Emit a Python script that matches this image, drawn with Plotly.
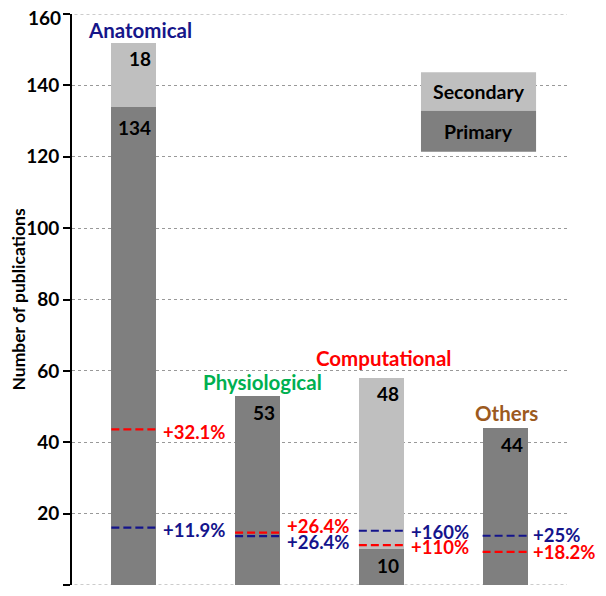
import plotly.graph_objects as go

categories = ["Anatomical", "Physiological", "Computational", "Others"]
primary = [134, 53, 10, 44]
secondary = [18, 0, 48, 0]
red_levels = [43.6, 14.7, 11.2, 9.3]
blue_levels = [16.1, 13.7, 15.2, 13.8]
red_labels = ["+32.1%", "+26.4%", "+110%", "+18.2%"]
blue_labels = ["+11.9%", "+26.4%", "+160%", "+25%"]
title_colors = ["#16168a", "#00b050", "#ff0000", "#9c5a1e"]
tick_vals = [0, 20, 40, 60, 80, 100, 120, 140, 160]
tick_text = ["", "20", "40", "60", "80", "100", "120", "140", "160"]

# ---- layout constants (positions / styles) ----
FONT = "Lato, 'Open Sans', sans-serif"
xs = list(range(len(categories)))
bw = 0.364
RED = "#ff0000"
BLUE = "#14148c"
GRID = "#999999"
red_label_dy = [-0.6, 1.9, -0.6, -0.1]
blue_label_dy = [-0.7, -1.7, -0.3, 0.2]
label_dx = [0.23, 0.23, 0.23, 0.215]
title_pos = [(0.049, 155.5), (0.036, 57.0), (0.02, 63.6), (0.01, 48.2)]
Y_MIN, Y_MAX = 0, 160
TICK_FONT = dict(size=19, color="black", family=FONT, weight="bold")

fig = go.Figure()
fig.add_trace(go.Bar(x=xs, y=primary, width=bw, marker=dict(color="#7f7f7f", line=dict(width=0)),
                     name="Primary", hoverinfo="y"))
fig.add_trace(go.Bar(x=xs, y=secondary, width=bw, marker=dict(color="#bfbfbf", line=dict(width=0)),
                     name="Secondary", hoverinfo="y"))

for i, x in enumerate(xs):
    for lvl, col in ((red_levels[i], RED), (blue_levels[i], BLUE)):
        fig.add_trace(go.Scatter(x=[x - bw / 2, x + bw / 2], y=[lvl, lvl], mode="lines",
                                 line=dict(color=col, width=2.2, dash="8px,4px"),
                                 showlegend=False, hoverinfo="skip"))

ann = []
for i, x in enumerate(xs):
    ann.append(dict(x=x + label_dx[i], y=red_levels[i] + red_label_dy[i], text=red_labels[i],
                    xanchor="left", yanchor="middle", showarrow=False, borderpad=0,
                    font=dict(color=RED, size=18.5, family=FONT, weight="bold")))
    ann.append(dict(x=x + label_dx[i], y=blue_levels[i] + blue_label_dy[i], text=blue_labels[i],
                    xanchor="left", yanchor="middle", showarrow=False, borderpad=0,
                    font=dict(color=BLUE, size=18.5, family=FONT, weight="bold")))

# value labels
val_font = dict(color="black", size=19, family=FONT, weight="bold")
for i, x in enumerate(xs):
    if secondary[i] > 0:
        top = primary[i] + secondary[i]
        ann.append(dict(x=x + bw / 2 - 0.025, y=top - 4.4, text=str(secondary[i]), xanchor="right",
                        yanchor="middle", showarrow=False, font=val_font))
    dy = 5.9 if i == 0 else 4.6
    ann.append(dict(x=x + bw / 2 - 0.025, y=primary[i] - dy, text=str(primary[i]), xanchor="right",
                    yanchor="middle", showarrow=False, font=val_font))

# category titles
for i, x in enumerate(xs):
    dx, ty = title_pos[i]
    ann.append(dict(x=x + dx, y=ty, text=categories[i], xanchor="center", yanchor="middle",
                    showarrow=False, font=dict(color=title_colors[i], size=20.5, family=FONT, weight="bold")))

# legend box
lx0, lx1 = 2.32, 3.25
shapes = [
    dict(type="rect", xref="x", yref="y", x0=lx0, x1=lx1, y0=132.9, y1=143.7, fillcolor="#bfbfbf",
         line=dict(width=0), layer="above"),
    dict(type="rect", xref="x", yref="y", x0=lx0, x1=lx1, y0=121.4, y1=132.9, fillcolor="#7f7f7f",
         line=dict(width=0), layer="above"),
]
# gridlines at the range ends (plotly clips those at the plot edges)
for yv in (Y_MIN, Y_MAX):
    shapes.append(dict(type="line", xref="paper", yref="y", x0=0.005, x1=1, y0=yv, y1=yv,
                       line=dict(color=GRID, width=1, dash="dot"), layer="below"))

ann.append(dict(x=(lx0 + lx1) / 2, y=138.3, text="Secondary", showarrow=False, xanchor="center", yanchor="middle",
                font=dict(color="black", size=19.5, family=FONT, weight="bold")))
ann.append(dict(x=(lx0 + lx1) / 2, y=127.1, text="Primary", showarrow=False, xanchor="center", yanchor="middle",
                font=dict(color="black", size=19.5, family=FONT, weight="bold")))

# top tick label drawn as annotation, nudged down a little so it is not clipped
ann.append(dict(xref="paper", yref="y", x=0, y=Y_MAX, xshift=-10, yshift=-3, text=tick_text[-1],
                xanchor="right", yanchor="middle", showarrow=False, borderpad=0, font=TICK_FONT))
axis_tick_text = tick_text[:-1] + [""]

# y title
ann.append(dict(xref="paper", yref="paper", x=-0.109, y=0.5, text="Number of publications", textangle=-90,
                showarrow=False, xanchor="center", yanchor="middle",
                font=dict(color="black", size=17.5, family=FONT, weight="bold")))

fig.update_layout(
    barmode="stack",
    width=598, height=588,
    margin=dict(l=64, r=39, t=6, b=11, autoexpand=False),
    paper_bgcolor="white", plot_bgcolor="white",
    showlegend=False,
    annotations=ann, shapes=shapes,
    font=dict(family=FONT),
    xaxis=dict(range=[-0.5, 3.5], showticklabels=False, showgrid=False, zeroline=False, showline=False, ticks=""),
    yaxis=dict(range=[Y_MIN, Y_MAX], tickvals=tick_vals, ticktext=axis_tick_text, showline=True, linecolor="black",
               linewidth=2, ticks="outside", ticklen=7, tickwidth=2, tickcolor="black", zeroline=False,
               automargin=False, ticklabeloverflow="allow",
               showgrid=True, gridcolor=GRID, griddash="dot", gridwidth=1,
               tickfont=TICK_FONT),
)

fig.write_html("out.html")
